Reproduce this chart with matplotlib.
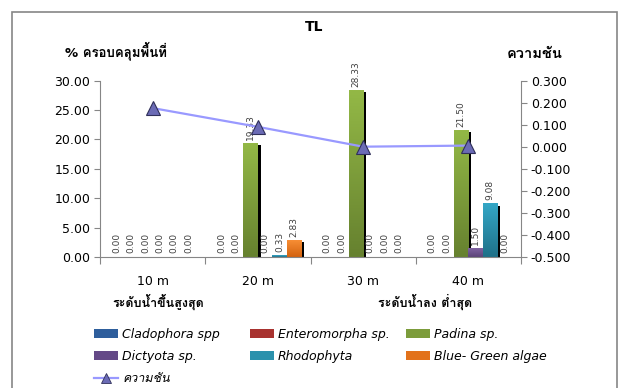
import matplotlib
matplotlib.use("Agg")
import matplotlib.pyplot as plt
import matplotlib.patheffects as pe
import numpy as np
from matplotlib import font_manager, ft2font
from matplotlib.colors import LinearSegmentedColormap
from matplotlib.lines import Line2D
from matplotlib.patches import Patch, Rectangle


def find_thai_font():
    # any installed family that has Thai glyphs
    for f in font_manager.fontManager.ttflist:
        try:
            if 0x0E01 in ft2font.FT2Font(f.fname).get_charmap():
                return f.name
        except Exception:
            pass
    return None


thai = find_thai_font()
fams = ['DejaVu Sans'] + ([thai] if thai else [])
plt.rcParams['font.family'] = fams

# data
categories = ['10 m', '20 m', '30 m', '40 m']
series_names = ['Cladophora spp', 'Enteromorpha sp.', 'Padina sp.',
                'Dictyota sp.', 'Rhodophyta', 'Blue- Green algae']
cladophora = [0.00, 0.00, 0.00, 0.00]
enteromorpha = [0.00, 0.00, 0.00, 0.00]
padina = [0.00, 19.33, 28.33, 21.50]
dictyota = [0.00, 0.00, 0.00, 1.50]
rhodophyta = [0.00, 0.33, 0.00, 9.08]
blue_green = [0.00, 2.83, 0.00, 0.00]
slope = [0.175, 0.09, 0.0, 0.005]
slope_name = 'ความชัน'

left_ticks = [0, 5, 10, 15, 20, 25, 30]
right_ticks = [-0.5, -0.4, -0.3, -0.2, -0.1, 0.0, 0.1, 0.2, 0.3]

series = [cladophora, enteromorpha, padina, dictyota, rhodophyta, blue_green]
# (top colour, bottom colour) of each bar gradient
colors = [('#4A7EBB', '#2C5A94'), ('#C0504D', '#982D2A'), ('#93B846', '#66812F'),
          ('#7F62A1', '#5C4479'), ('#34A7C6', '#1F7088'), ('#F78E35', '#D3620F')]
legend_colors = ['#2E5E9C', '#A8322F', '#7C9C3B', '#644987', '#2B91AC', '#E2721B']
axis_gray = '#868686'

fig = plt.figure(figsize=(6.22, 3.88), dpi=100)
ax = fig.add_axes([100 / 622, 1 - 257 / 388, 421 / 622, 176.5 / 388])

x = np.arange(len(categories))
w = 0.137
shadow = [pe.SimplePatchShadow(offset=(1.9, -1.4), shadow_rgbFace='black', alpha=1.0),
          pe.Normal()]
for i, vals in enumerate(series):
    pos = x + (i - 2.5) * w
    bars = ax.bar(pos, vals, w, color=colors[i][1], zorder=2, linewidth=0)
    cmap = LinearSegmentedColormap.from_list('g%d' % i, [colors[i][1], colors[i][0]])
    for b, v in zip(bars, vals):
        if v > 0:
            b.set_path_effects(shadow)
            grad = np.linspace(0, 1, 64).reshape(-1, 1)
            ax.imshow(grad, extent=[b.get_x(), b.get_x() + w, 0, v], origin='lower',
                      aspect='auto', cmap=cmap, zorder=2.5)
        ax.text(b.get_x() + w / 2, v + 0.6, '%.2f' % v, rotation=90, ha='center',
                va='bottom', fontsize=6.5, color='#404040', zorder=4)

ax.set_xlim(-0.5, 3.5)
ax.set_ylim(0, 30)
ax.set_yticks(left_ticks)
ax.set_yticklabels(['%.2f' % t for t in left_ticks], fontsize=9)
ax.set_xticks([-0.5, 0.5, 1.5, 2.5, 3.5])
ax.set_xticklabels([])
ax.set_xticks(x, minor=True)
ax.set_xticklabels(categories, minor=True, fontsize=9)
ax.tick_params(axis='x', which='major', length=5, color=axis_gray)
ax.tick_params(axis='x', which='minor', length=0, pad=13)
ax.tick_params(axis='y', length=4, color=axis_gray, pad=3)
for s in ['left', 'bottom']:
    ax.spines[s].set_color(axis_gray)
ax.spines['top'].set_visible(False)
ax.spines['right'].set_visible(False)

ax2 = ax.twinx()
ax2.plot(x, slope, color='#9999FF', lw=1.6, marker='^', markersize=9.5,
         markerfacecolor='#6B6BB5', markeredgecolor='#30305A', markeredgewidth=0.8,
         zorder=5)
ax2.set_ylim(-0.5, 0.3)
ax2.set_yticks(right_ticks)
ax2.set_yticklabels(['%.3f' % round(t, 3) if abs(t) > 1e-9 else '0.000'
                     for t in right_ticks], fontsize=9)
ax2.tick_params(axis='y', length=4, color=axis_gray, pad=3)
ax2.spines['right'].set_color(axis_gray)
for s in ['top', 'left', 'bottom']:
    ax2.spines[s].set_visible(False)

fig.text(314 / 622, 1 - 27 / 388, 'TL', ha='center', va='center', fontsize=10,
         fontweight='bold')
fig.text(116 / 622, 1 - 51 / 388, '% ครอบคลุมพื้นที่', ha='center', va='center',
         fontsize=9.5, fontweight='bold')
fig.text(535 / 622, 1 - 54 / 388, 'ความชัน', ha='center', va='center',
         fontsize=10.5, fontweight='bold')
fig.text(158 / 622, 1 - 302 / 388, 'ระดับน้ำขึ้นสูงสุด', ha='center', va='center',
         fontsize=9, fontweight='bold')
fig.text(425 / 622, 1 - 302 / 388, 'ระดับน้ำลง ต่ำสุด', ha='center', va='center',
         fontsize=9, fontweight='bold')

# legend, three aligned columns
handles = [Patch(facecolor=c, edgecolor='none') for c in legend_colors]
line_handle = Line2D([], [], color='#9999FF', lw=1.6, marker='^', markersize=7,
                     markerfacecolor='#6B6BB5', markeredgecolor='#30305A',
                     markeredgewidth=0.6)
columns = [([handles[0], handles[3], line_handle],
            [series_names[0], series_names[3], slope_name]),
           ([handles[1], handles[4]], [series_names[1], series_names[4]]),
           ([handles[2], handles[5]], [series_names[2], series_names[5]])]
col_x = [94, 250, 406]
for (hs, ls), cx in zip(columns, col_x):
    leg = fig.legend(hs, ls, loc='upper left', bbox_to_anchor=(cx / 622, 1 - 328 / 388),
                     frameon=False, borderpad=0, borderaxespad=0, handlelength=1.9,
                     handleheight=0.7, handletextpad=0.35, labelspacing=0.72,
                     prop={'size': 9, 'style': 'italic', 'family': fams})

fig.patches.append(Rectangle((12 / 622, -0.05), 605 / 622, 1 - 12 / 388 + 0.05,
                             transform=fig.transFigure, fill=False,
                             edgecolor=axis_gray, lw=1.2))

fig.savefig('out.png', dpi=100)
